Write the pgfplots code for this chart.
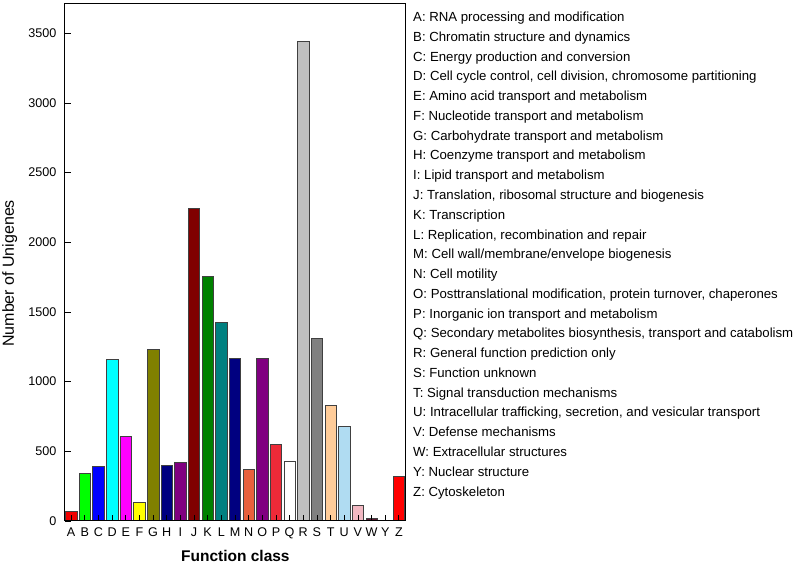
\documentclass[border=0pt]{standalone}
\usepackage{fontspec}
\setmainfont{Liberation Sans}
\usepackage{pgfplots}
\pgfplotsset{compat=1.18}
\definecolor{cA}{HTML}{F00000}
\definecolor{cB}{HTML}{00FF00}
\definecolor{cC}{HTML}{0000FF}
\definecolor{cD}{HTML}{00FFFF}
\definecolor{cE}{HTML}{FF00FF}
\definecolor{cF}{HTML}{FFFF00}
\definecolor{cG}{HTML}{808000}
\definecolor{cH}{HTML}{000080}
\definecolor{cI}{HTML}{800080}
\definecolor{cJ}{HTML}{800000}
\definecolor{cK}{HTML}{008000}
\definecolor{cL}{HTML}{008080}
\definecolor{cM}{HTML}{000080}
\definecolor{cN}{HTML}{E8603C}
\definecolor{cO}{HTML}{800080}
\definecolor{cP}{HTML}{EE2A38}
\definecolor{cQ}{HTML}{FFFFFF}
\definecolor{cR}{HTML}{C0C0C0}
\definecolor{cS}{HTML}{808080}
\definecolor{cT}{HTML}{FFCC99}
\definecolor{cU}{HTML}{B0DCF2}
\definecolor{cV}{HTML}{F2B8C2}
\definecolor{cW}{HTML}{5A1A30}
\definecolor{cY}{HTML}{F4F4F4}
\definecolor{cZ}{HTML}{FF0000}
\pgfplotsset{bb/.style={fill=#1, draw=black!75, line width=0.6pt, bar shift=0pt}}
\begin{document}
\begin{tikzpicture}
\useasboundingbox (0pt,0pt) rectangle (798pt,569pt);
\begin{axis}[
  at={(65pt,48pt)}, anchor=south west,
  scale only axis, width=340.7pt, height=517pt,
  xmin=-0.45, xmax=24.5, ymin=0, ymax=3710,
  ybar, bar width=0.84,
  xtick={0,...,24},
  xticklabels={A,B,C,D,E,F,G,H,I,J,K,L,M,N,O,P,Q,R,S,T,U,V,W,Y,Z},
  ytick={0,500,...,3500},
  tick align=inside, xtick pos=lower, ytick pos=left,
  major tick length=6pt,
  tick style={black, line width=0.8pt},
  axis line style={line width=1pt},
  axis on top,
  tick label style={font=\fontsize{12.6}{14}\selectfont},
  xticklabel style={yshift=-3pt},
  yticklabel style={xshift=-5pt},
  /pgf/number format/assume math mode=true,
  /pgf/number format/1000 sep={},
  xlabel={\textbf{Function class}},
  ylabel={Number of Unigenes},
  xlabel style={font=\fontsize{15.5}{18}\selectfont, at={(axis description cs:0.5,-0.068)}, anchor=center},
  ylabel style={font=\fontsize{16}{18}\selectfont, at={(axis description cs:-0.162,0.479)}, anchor=center},
]
\addplot[bb=cA] coordinates {(0,72)};
\addplot[bb=cB] coordinates {(1,342)};
\addplot[bb=cC] coordinates {(2,392)};
\addplot[bb=cD] coordinates {(3,1161)};
\addplot[bb=cE] coordinates {(4,607)};
\addplot[bb=cF] coordinates {(5,136)};
\addplot[bb=cG] coordinates {(6,1231)};
\addplot[bb=cH] coordinates {(7,401)};
\addplot[bb=cI] coordinates {(8,418)};
\addplot[bb=cJ] coordinates {(9,2241)};
\addplot[bb=cK] coordinates {(10,1754)};
\addplot[bb=cL] coordinates {(11,1425)};
\addplot[bb=cM] coordinates {(12,1171)};
\addplot[bb=cN] coordinates {(13,368)};
\addplot[bb=cO] coordinates {(14,1166)};
\addplot[bb=cP] coordinates {(15,550)};
\addplot[bb=cQ] coordinates {(16,425)};
\addplot[bb=cR] coordinates {(17,3440)};
\addplot[bb=cS] coordinates {(18,1314)};
\addplot[bb=cT] coordinates {(19,832)};
\addplot[bb=cU] coordinates {(20,683)};
\addplot[bb=cV] coordinates {(21,110)};
\addplot[bb=cW] coordinates {(22,19)};
\addplot[bb=cY] coordinates {(23,5)};
\addplot[bb=cZ] coordinates {(24,318)};
\end{axis}
\foreach \t [count=\i from 0] in {
{A: RNA processing and modification},
{B: Chromatin structure and dynamics},
{C: Energy production and conversion},
{D: Cell cycle control, cell division, chromosome partitioning},
{E: Amino acid transport and metabolism},
{F: Nucleotide transport and metabolism},
{G: Carbohydrate transport and metabolism},
{H: Coenzyme transport and metabolism},
{I: Lipid transport and metabolism},
{J: Translation, ribosomal structure and biogenesis},
{K: Transcription},
{L: Replication, recombination and repair},
{M: Cell wall/membrane/envelope biogenesis},
{N: Cell motility},
{O: Posttranslational modification, protein turnover, chaperones},
{P: Inorganic ion transport and metabolism},
{Q: Secondary metabolites biosynthesis, transport and catabolism},
{R: General function prediction only},
{S: Function unknown},
{T: Signal transduction mechanisms},
{U: Intracellular trafficking, secretion, and vesicular transport},
{V: Defense mechanisms},
{W: Extracellular structures},
{Y: Nuclear structure},
{Z: Cytoskeleton}}
{\node[anchor=base west, inner sep=0pt, font=\fontsize{13.2}{15}\selectfont] at (413pt, {547.4pt-\i*19.77pt}) {\t};}
\end{tikzpicture}
\end{document}
